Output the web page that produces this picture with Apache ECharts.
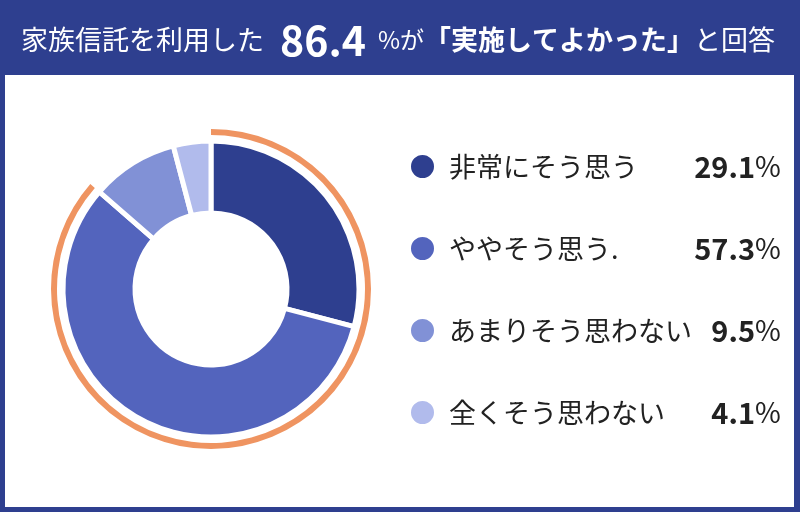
<!DOCTYPE html>
<html>
<head>
<meta charset="UTF-8">
<title>家族信託アンケート</title>
<style>
  html, body { margin: 0; padding: 0; }
  #main { width: 800px; height: 512px; }
</style>
</head>
<body>
<div id="main"></div>
<script src="https://cdn.jsdelivr.net/npm/echarts@6/dist/echarts.min.js"></script>
<script>
var answers = ['非常にそう思う', 'ややそう思う.', 'あまりそう思わない', '全くそう思わない'];
var shares = [29.1, 57.3, 9.5, 4.1];
var sliceColors = ['#2E3F8F', '#5364BD', '#8191D6', '#B1BBEC'];

// 「よかった」= 非常に + やや
var positive = +(shares[0] + shares[1]).toFixed(1);

var font = 'Noto Sans CJK JP';

var chart = echarts.init(document.getElementById('main'));

var option = {
  backgroundColor: '#2E3F8F',
  textStyle: { fontFamily: font },
  graphic: [{
    type: 'rect',
    z: -10,
    shape: { x: 5, y: 75, width: 789, height: 432 },
    style: { fill: '#fff' }
  }],
  title: {
    left: 16,
    top: 12,
    text: '{a|家族信託を利用した}{b|' + positive + '}{c|%が}{d|「実施してよかった」}{a|と回答}',
    textStyle: {
      fontWeight: 'normal',
      rich: {
        a: { fontFamily: font, fontSize: 27, fontWeight: 'normal', color: '#fff', lineHeight: 46 },
        b: { fontFamily: font, fontSize: 41, fontWeight: 'bold', color: '#fff', lineHeight: 46, padding: [0, 12, 0, 16] },
        c: { fontFamily: font, fontSize: 24, fontWeight: 'normal', color: '#fff', lineHeight: 46 },
        d: { fontFamily: font, fontSize: 27, fontWeight: 'bold', color: '#fff', lineHeight: 46 }
      }
    }
  },
  legend: {
    orient: 'vertical',
    left: 404,
    top: 147,
    icon: 'circle',
    itemWidth: 25,
    itemHeight: 25,
    itemGap: 53,
    selectedMode: false,
    data: answers,
    formatter: function (name) {
      var v = shares[answers.indexOf(name)];
      return '{n|' + name + '}{v|' + v.toFixed(1) + '}{p|%}';
    },
    textStyle: {
      rich: {
        n: { fontFamily: font, fontSize: 27, color: '#222', width: 246, padding: [0, 0, 0, 9], lineHeight: 36 },
        v: { fontFamily: font, fontSize: 29, fontWeight: 'bold', color: '#222', width: 60, align: 'right', lineHeight: 36 },
        p: { fontFamily: font, fontSize: 28, color: '#222', align: 'right', lineHeight: 36 }
      }
    }
  },
  series: [
    {
      type: 'pie',
      center: [211, 289],
      radius: [76, 148],
      startAngle: 90,
      clockwise: true,
      silent: true,
      label: { show: false },
      labelLine: { show: false },
      itemStyle: { borderColor: '#fff', borderWidth: 5 },
      data: answers.map(function (n, i) {
        return { name: n, value: shares[i], itemStyle: { color: sliceColors[i] } };
      })
    },
    {
      type: 'pie',
      center: [211, 289],
      radius: [154, 160],
      startAngle: 90,
      clockwise: true,
      silent: true,
      label: { show: false },
      labelLine: { show: false },
      data: [
        { name: '実施してよかった', value: positive, itemStyle: { color: '#EF9461' } },
        { name: 'その他', value: +(100 - positive).toFixed(1), itemStyle: { color: 'rgba(0,0,0,0)' } }
      ]
    }
  ]
};

chart.setOption(option);
</script>
</body>
</html>
